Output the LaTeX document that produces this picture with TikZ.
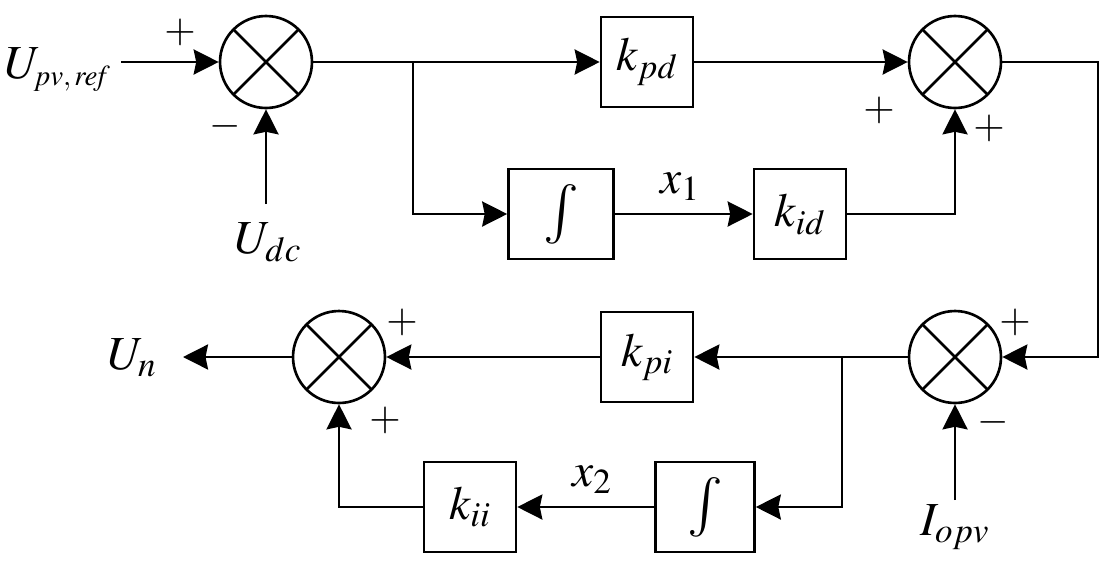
\documentclass[tikz,border=0pt]{standalone}
\usepackage{mathptmx}
\usetikzlibrary{arrows.meta, positioning}

\begin{document}
\begin{tikzpicture}[
    x=0.02cm, y=-0.02cm,
    line width=1.5pt,
    >={Stealth[length=0.5cm, width=0.5cm, inset=0.05cm]},
    sum node/.style={circle, draw, minimum size=1.84cm, inner sep=0pt,
        path picture={\draw (path picture bounding box.north west) -- (path picture bounding box.south east)
                            (path picture bounding box.north east) -- (path picture bounding box.south west);}},
    block node/.style={rectangle, draw, minimum width=1.84cm, minimum height=1.8cm, inner sep=0pt, font=\fontsize{27}{32}\selectfont},
    label node/.style={inner sep=0pt, font=\fontsize{27}{32}\selectfont},
    sign node/.style={inner sep=0pt, font=\fontsize{23}{26}\selectfont}
]
    \useasboundingbox (0,0) rectangle (1115,569);

    % Summing junctions
    \node[sum node] (sumA) at (266,62) {};
    \node[sum node] (sumB) at (955,62) {};
    \node[sum node] (sumC) at (955,357) {};
    \node[sum node] (sumD) at (339,357) {};

    % Blocks
    \node[block node] (kpd) at (647,62) {$k_{pd}$};
    \node[block node, minimum width=2.1cm] (intA) at (561,214) {\fontsize{34}{38}\selectfont $\int$};
    \node[block node] (kid) at (800,214) {$k_{id}$};
    \node[block node] (kpi) at (647,357) {$k_{pi}$};
    \node[block node, minimum width=1.98cm] (intB) at (705,507) {\fontsize{34}{38}\selectfont $\int$};
    \node[block node] (kii) at (470,507) {$k_{ii}$};

    % Signals
    \node[label node, anchor=east] (upv) at (112,70) {$U_{\mbox{\fontsize{16.5}{18}\selectfont$\mathit{pv,ref}$}}$};
    \node[label node] (udc) at (268,242) {$U_{dc}$};
    \node[label node] (iopv) at (955,527) {$I_{opv}$};
    \node[label node] (un) at (132,358) {$U_n$};
    \node[label node] (xa) at (680,187) {$x_1$};
    \node[label node] (xb) at (592,480) {$x_2$};
    \coordinate (in) at (121,62);
    \coordinate (udcin) at (266,204);
    \coordinate (iopvin) at (955,500);
    \coordinate (out) at (183,357);
    \coordinate (brA) at (413,62);
    \coordinate (brB) at (842,357);
    \coordinate (rt) at (1098,62);

    % Signs
    \node[sign node] (pA) at (180,32) {$+$};
    \node[sign node] (mA) at (225,126) {$-$};
    \node[sign node] (pB) at (879,110) {$+$};
    \node[sign node] (pC) at (989,128) {$+$};
    \node[sign node] (pD) at (1015,322) {$+$};
    \node[sign node] (mD) at (993,422) {$-$};
    \node[sign node] (pE) at (402,322) {$+$};
    \node[sign node] (pF) at (385,420) {$+$};

    % Connectors
    \draw[->] (in) -- (sumA.west);
    \draw[->] (udcin) -- (sumA.south);
    \draw[->] (sumA.east) -- (kpd.west);
    \draw[->] (brA) |- (intA.west);
    \draw[->] (intA) -- (kid);
    \draw[->] (kpd) -- (sumB);
    \draw[->] (kid.east) -| (sumB.south);
    \draw[->] (sumB.east) -- (rt) |- (sumC.east);
    \draw[->] (iopvin) -- (sumC.south);
    \draw[->] (sumC.west) -- (kpi.east);
    \draw[->] (brB) |- (intB.east);
    \draw[->] (intB) -- (kii);
    \draw[->] (kii.west) -| (sumD.south);
    \draw[->] (kpi) -- (sumD);
    \draw[->] (sumD.west) -- (out);
\end{tikzpicture}
\end{document}
